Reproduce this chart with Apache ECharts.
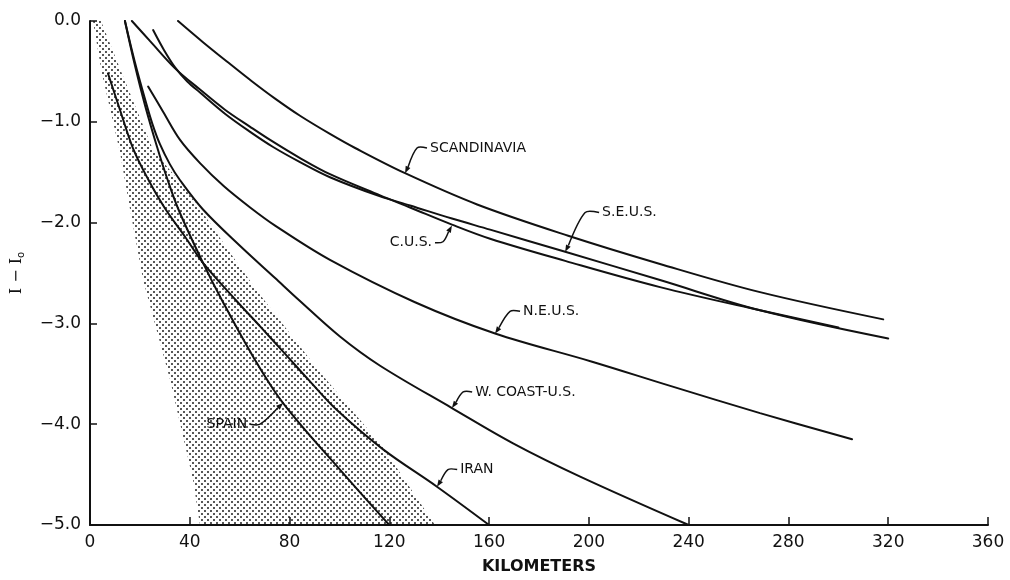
<!DOCTYPE html>
<html><head><meta charset="utf-8">
<script src="https://cdn.jsdelivr.net/npm/echarts@6/dist/echarts.min.js"></script>
<style>html,body{margin:0;padding:0;background:#fff}#c{width:1010px;height:580px}</style>
</head><body><div id="c"></div>
<script>
// ---- tick labels ----
const xTickLabels = ['0','40','80','120','160','200','240','280','320','360'];
const yTickLabels = ['0.0','\u22121.0','\u22122.0','\u22123.0','\u22124.0','\u22125.0'];

// ---- curves: [km, I - I0] ----
const scandinavia = [[35.3,0],[45.3,-0.21],[55.3,-0.41],[65.0,-0.60],[74.2,-0.77],[84.2,-0.94],[96.2,-1.12],[106.3,-1.26],[126.3,-1.51],[155.2,-1.82],[191.7,-2.13],[228.5,-2.41],[268.6,-2.69],[318.0,-2.96]];
const seus = [[25.3,-0.09],[29.7,-0.29],[34.1,-0.46],[39.0,-0.60],[44.1,-0.71],[54.1,-0.92],[64.2,-1.10],[73.4,-1.25],[84.2,-1.40],[96.2,-1.55],[116.3,-1.74],[128.3,-1.83],[145.1,-1.96],[160.4,-2.07],[190.5,-2.29],[228.5,-2.57],[268.6,-2.87],[320,-3.15]];
const cus = [[16.8,0],[24.1,-0.20],[34.1,-0.47],[44.1,-0.68],[54.1,-0.88],[64.2,-1.05],[72.2,-1.18],[84.2,-1.36],[96.2,-1.52],[116.3,-1.73],[128.3,-1.85],[145.1,-2.02],[160.4,-2.16],[190.5,-2.38],[228.5,-2.64],[268.6,-2.87],[300,-3.04]];
const neus = [[23.3,-0.65],[29.3,-0.90],[36.1,-1.18],[44.1,-1.41],[53.7,-1.64],[64.2,-1.85],[74.2,-2.03],[96.2,-2.37],[130.3,-2.79],[162.4,-3.10],[201.3,-3.38],[232.6,-3.62],[268.6,-3.89],[305.5,-4.15]];
const wcoast = [[14.0,0],[18.0,-0.41],[22.1,-0.78],[25.0,-1.02],[28.0,-1.22],[32.0,-1.42],[36.1,-1.58],[45.3,-1.87],[60.1,-2.23],[74.2,-2.55],[83.4,-2.76],[100.2,-3.13],[116.3,-3.42],[145.1,-3.84],[169.6,-4.19],[196.5,-4.52],[240,-5.0]];
const iran = [[7.2,-0.52],[12.0,-0.88],[17.2,-1.26],[23.3,-1.57],[30.1,-1.86],[38.1,-2.14],[45.3,-2.40],[58.5,-2.77],[68.2,-3.03],[77.4,-3.28],[88.0,-3.57],[99.0,-3.86],[117.5,-4.25],[139.1,-4.62],[160,-5.0]];
const spain = [[14.0,0],[18.0,-0.44],[22.1,-0.84],[26.9,-1.25],[30.9,-1.56],[35.3,-1.86],[45.3,-2.40],[52.9,-2.77],[65.4,-3.33],[77.4,-3.79],[100.2,-4.45],[120,-5.0]];

// ---- stippled band outline ----
const stippleLeft = [[1.2,0],[4.8,-0.52],[12.0,-1.30],[16.0,-1.86],[21.3,-2.57],[32.1,-3.56],[41.3,-4.55],[44.1,-5.0]];
const stippleRight = [[4.4,0],[12.8,-0.52],[25.3,-1.28],[36.1,-1.60],[44.1,-1.86],[55.3,-2.27],[67.4,-2.69],[91.4,-3.46],[117.5,-4.23],[138.3,-5.0]];

// ---- curve labels ----
const annoLabels = ['SCANDINAVIA','S.E.U.S.','C.U.S.','N.E.U.S.','W. COAST-U.S.','IRAN','SPAIN'];
const annoText = [[136.3,-1.26],[205.3,-1.90],[137.1,-2.20],[173.6,-2.88],[154.4,-3.68],[148.4,-4.45],[63.0,-4.00]];
const annoElbow = [[131.1,-1.26],[198.5,-1.90],[141.5,-2.19],[168.4,-2.88],[149.6,-3.68],[143.5,-4.45],[68.2,-4.00]];
const annoTip = [[126.3,-1.51],[190.5,-2.29],[145.1,-2.03],[162.4,-3.10],[145.1,-3.84],[139.1,-4.62],[77.4,-3.79]];
const annoAlign = ['left','left','right','left','left','left','right'];

const FONT = '"DejaVu Sans", sans-serif';
const INK = '#111';

// dot pattern for the stipple
const cvs = document.createElement('canvas');
cvs.width = 6; cvs.height = 6;
const cx = cvs.getContext('2d');
cx.fillStyle = '#111';
cx.beginPath(); cx.arc(1, 1, 0.95, 0, Math.PI * 2); cx.fill();
cx.beginPath(); cx.arc(4, 4, 0.95, 0, Math.PI * 2); cx.fill();
const dotPattern = { image: cvs, repeat: 'repeat' };

function curve(name, data) {
  return { type: 'line', name, data, smooth: 0.35, symbol: 'none', showSymbol: false,
    lineStyle: { color: INK, width: 2, cap: 'round' }, z: 3, silent: true };
}

const chart = echarts.init(document.getElementById('c'));
chart.setOption({
  animation: false,
  backgroundColor: '#fff',
  grid: { left: 90, right: 22, top: 21, bottom: 55, containLabel: false },
  xAxis: {
    type: 'value', min: 0, max: 360, interval: 40,
    axisLine: { show: true, onZero: false, lineStyle: { color: INK, width: 2 } },
    axisTick: { show: true, inside: true, length: 8, lineStyle: { color: INK, width: 1.5 } },
    axisLabel: { color: INK, fontSize: 17, fontFamily: FONT, margin: 9,
      formatter: v => xTickLabels[Math.round(v / 40)] },
    splitLine: { show: false },
    name: 'KILOMETERS', nameLocation: 'middle', nameGap: 34,
    nameTextStyle: { color: INK, fontSize: 16, fontWeight: 'bold', fontFamily: FONT }
  },
  yAxis: {
    type: 'value', min: -5, max: 0, interval: 1,
    axisLine: { show: true, onZero: false, lineStyle: { color: INK, width: 2 } },
    axisTick: { show: true, inside: true, length: 7, lineStyle: { color: INK, width: 1.5 } },
    axisLabel: { color: INK, fontSize: 17, fontFamily: FONT, margin: 9,
      formatter: v => yTickLabels[Math.round(-v)] },
    splitLine: { show: false },
    name: 'I \u2212 I{s|o}', nameLocation: 'middle', nameGap: 64, nameRotate: 90,
    nameTextStyle: { color: INK, fontSize: 16, fontFamily: '"DejaVu Serif", serif',
      rich: { s: { fontSize: 10, fontFamily: '"DejaVu Sans", sans-serif', padding: [8, 0, 0, 0], color: INK } } }
  },
  series: [
    { type: 'custom', name: 'stipple', z: 1, silent: true, clip: true,
      data: [[0, 0]],
      renderItem: (params, api) => {
        const pts = stippleLeft.concat(stippleRight.slice().reverse()).map(p => api.coord(p));
        return { type: 'polygon', shape: { points: pts }, style: { fill: dotPattern, stroke: null } };
      } },
    curve('SCANDINAVIA', scandinavia),
    curve('S.E.U.S.', seus),
    curve('C.U.S.', cus),
    curve('N.E.U.S.', neus),
    curve('W. COAST-U.S.', wcoast),
    curve('IRAN', iran),
    curve('SPAIN', spain),
    { type: 'custom', name: 'labels', z: 5, silent: true, clip: false,
      data: annoTip,
      renderItem: (params, api) => {
        const i = params.dataIndex;
        const t = api.coord(annoText[i]);
        const e = api.coord(annoElbow[i]);
        const p = api.coord(annoTip[i]);
        const side = annoAlign[i] === 'left' ? -1 : 1;
        const s = [t[0] + side * 3, t[1]];
        const dx = p[0] - e[0], dy = p[1] - e[1];
        const L = Math.sqrt(dx * dx + dy * dy) || 1;
        const ux = dx / L, uy = dy / L;
        const hl = 7, hw = 2.6;
        const base = [p[0] - ux * hl, p[1] - uy * hl];
        const a1 = [base[0] - uy * hw, base[1] + ux * hw];
        const a2 = [base[0] + uy * hw, base[1] - ux * hw];
        return { type: 'group', children: [
          { type: 'polyline', shape: { points: [s, e, base], smooth: 0.3 },
            style: { stroke: INK, lineWidth: 1.5, fill: null } },
          { type: 'polygon', shape: { points: [p, a1, a2] }, style: { fill: INK } },
          { type: 'text', style: { text: annoLabels[i], x: t[0], y: t[1], align: annoAlign[i],
              verticalAlign: 'middle', font: '14px ' + FONT, fill: INK } }
        ] };
      } }
  ]
});
</script>
</body></html>
